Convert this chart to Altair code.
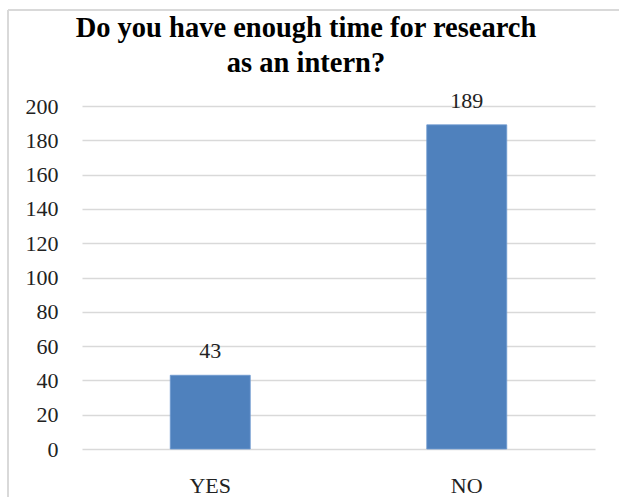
import altair as alt
import pandas as pd

categories = ["YES", "NO"]
counts = [43, 189]
title_lines = ["Do you have enough time for research", "as an intern?"]
y_ticks = [0, 20, 40, 60, 80, 100, 120, 140, 160, 180, 200]

df = pd.DataFrame({"answer": categories, "count": counts})

SERIF = "Liberation Serif"
W, H = 513, 343

x_scale = alt.Scale(paddingInner=0.5, paddingOuter=0.25)
y_scale = alt.Scale(domain=[0, 200], nice=False)

x_axis = alt.Axis(labelAngle=0, ticks=False, domain=False,
                  labelFont=SERIF, labelFontSize=22, labelColor="#222222",
                  labelPadding=26, labelBaseline="top")
y_axis = alt.Axis(values=y_ticks, ticks=False, domain=False, labelOverlap=False,
                  labelFont=SERIF, labelFontSize=22, labelColor="#222222",
                  labelPadding=24, gridColor="#d9d9d9", gridWidth=1.5)

x_enc = alt.X("answer:N", sort=categories, title=None, scale=x_scale, axis=x_axis)
y_enc = alt.Y("count:Q", title=None, scale=y_scale, axis=y_axis)

bars = alt.Chart(df).mark_bar(size=80, color="#4f81bd", stroke="#6f9bd0", strokeWidth=0.8).encode(
    x=x_enc, y=y_enc)

labels = alt.Chart(df).mark_text(font=SERIF, fontSize=22, color="#222222",
                                 baseline="alphabetic", dy=-17).encode(
    x=x_enc, y=y_enc, text=alt.Text("count:Q"))

title1 = alt.Chart(pd.DataFrame({"t": [title_lines[0]]})).mark_text(
    font=SERIF, fontSize=28.5, fontWeight="bold", color="#000000",
    align="center", baseline="alphabetic").encode(
    text="t:N", x=alt.value(224), y=alt.value(-69))
title2 = alt.Chart(pd.DataFrame({"t": [title_lines[1]]})).mark_text(
    font=SERIF, fontSize=28.5, fontWeight="bold", color="#000000",
    align="center", baseline="alphabetic").encode(
    text="t:N", x=alt.value(224), y=alt.value(-34))

border_top = alt.Chart(pd.DataFrame({"a": [0]})).mark_rule(
    stroke="#d9d9d9", strokeWidth=2).encode(
    x=alt.value(8 - 82), x2=alt.value(619 - 82), y=alt.value(10 - 106))
border_left = alt.Chart(pd.DataFrame({"a": [0]})).mark_rule(
    stroke="#d9d9d9", strokeWidth=2).encode(
    x=alt.value(8 - 82), y=alt.value(10 - 106), y2=alt.value(497 - 106))

chart = alt.layer(border_top, border_left, bars, labels, title1, title2).properties(
    width=W, height=H,
    autosize=alt.AutoSizeParams(type="none"),
    padding={"left": 82, "top": 106, "right": 24, "bottom": 48},
    background="white",
).configure_view(stroke=None)

chart.save("out.html", embed_options={"renderer": "svg", "actions": False})
